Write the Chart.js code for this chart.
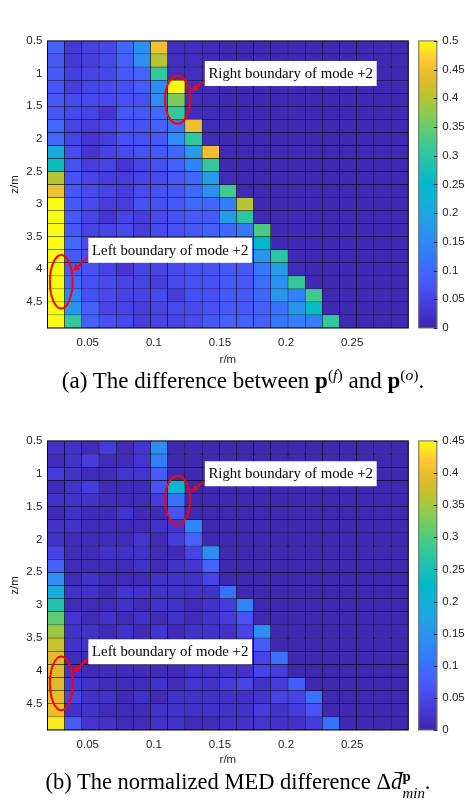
<!DOCTYPE html>
<html><head><meta charset="utf-8">
<script src="https://cdn.jsdelivr.net/npm/chart.js@4.4.1/dist/chart.umd.min.js"></script>
<style>
html,body{margin:0;padding:0;background:#fff;}
#wrap{position:relative;width:465px;height:804px;overflow:hidden;background:#fff;}
.cv{position:absolute;left:0;width:465px;height:372px;}
.cap{position:absolute;white-space:nowrap;font-family:"Liberation Serif","Times New Roman",serif;font-size:23px;line-height:26px;color:#000;transform:translateX(-50%);}
.cap sup{font-size:68%;line-height:0;vertical-align:0.5em;}
.dbar{position:relative;display:inline-block;}
.dbar::before{content:"";position:absolute;left:0.18em;right:-0.06em;top:0.12em;border-top:1.2px solid #000;}
.ss{display:inline-block;vertical-align:-0.62em;font-size:66%;line-height:1.15;text-align:left;margin-left:0.03em;}
.ss span{display:block;}
</style></head><body>
<div id="wrap">
<div class="cv" style="top:0"><canvas id="chartA" width="465" height="372"></canvas></div>
<div class="cap" style="left:243px;top:368px">(a) The difference between <b>p</b><sup>(<i>f</i>)</sup> and <b>p</b><sup>(<i>o</i>)</sup>.</div>
<div class="cv" style="top:400px"><canvas id="chartB" width="465" height="372"></canvas></div>
<div class="cap" style="left:238px;top:768px;font-size:22.5px">(b) The normalized MED difference Δ<span class="dbar"><i>d</i></span><span class="ss"><span><b>p</b></span><span><i>min</i></span></span>.</div>
</div>
<script>
// ---------------- data ----------------
const rCenters = [0.026,0.039,0.052,0.065,0.078,0.091,0.104,0.117,0.130,0.143,0.156,0.169,0.182,0.195,0.208,0.221,0.234,0.247,0.260,0.273,0.286];
const zCenters = [0.6,0.8,1.0,1.2,1.4,1.6,1.8,2.0,2.2,2.4,2.6,2.8,3.0,3.2,3.4,3.6,3.8,4.0,4.2,4.4,4.6,4.8];
const rTicks = [0.05,0.1,0.15,0.2,0.25];
const zTicks = [0.5,1,1.5,2,2.5,3,3.5,4,4.5];
const cbTicksA = [0,0.05,0.1,0.15,0.2,0.25,0.3,0.35,0.4,0.45,0.5];
const cbTicksB = [0,0.05,0.1,0.15,0.2,0.25,0.3,0.35,0.4,0.45];
const cmaxA = 0.5;
const cmaxB = 0.45;

// (a) difference between p(f) and p(o); rows = z, columns = r
const diffA = [
 [0.09,0.035,0.045,0.055,0.10,0.16,0.45,0.015,0.015,0.01,0.008,0.008,0.008,0.008,0.008,0.008,0.008,0.008,0.008,0.008,0.008],
 [0.08,0.035,0.045,0.055,0.09,0.16,0.40,0.015,0.015,0.01,0.008,0.008,0.008,0.008,0.008,0.008,0.008,0.008,0.008,0.008,0.008],
 [0.08,0.045,0.05,0.055,0.08,0.095,0.31,0.015,0.015,0.01,0.008,0.008,0.008,0.008,0.008,0.008,0.008,0.008,0.008,0.008,0.008],
 [0.08,0.04,0.055,0.06,0.065,0.085,0.15,0.50,0.015,0.01,0.008,0.008,0.008,0.008,0.008,0.008,0.008,0.008,0.008,0.008,0.008],
 [0.08,0.06,0.06,0.06,0.07,0.07,0.15,0.365,0.015,0.01,0.008,0.008,0.008,0.008,0.008,0.008,0.008,0.008,0.008,0.008,0.008],
 [0.08,0.06,0.05,0.03,0.08,0.08,0.10,0.31,0.015,0.01,0.008,0.008,0.008,0.008,0.008,0.008,0.008,0.008,0.008,0.008,0.008],
 [0.10,0.05,0.04,0.05,0.07,0.07,0.09,0.12,0.45,0.01,0.008,0.008,0.008,0.008,0.008,0.008,0.008,0.008,0.008,0.008,0.008],
 [0.10,0.05,0.03,0.04,0.07,0.07,0.08,0.15,0.31,0.01,0.008,0.008,0.008,0.008,0.008,0.008,0.008,0.008,0.008,0.008,0.008],
 [0.21,0.06,0.03,0.05,0.06,0.07,0.08,0.10,0.18,0.45,0.008,0.008,0.008,0.008,0.008,0.008,0.008,0.008,0.008,0.008,0.008],
 [0.26,0.07,0.04,0.05,0.03,0.05,0.07,0.09,0.14,0.31,0.008,0.008,0.008,0.008,0.008,0.008,0.008,0.008,0.008,0.008,0.008],
 [0.40,0.07,0.05,0.04,0.04,0.05,0.06,0.08,0.10,0.18,0.01,0.008,0.008,0.008,0.008,0.008,0.008,0.008,0.008,0.008,0.008],
 [0.45,0.08,0.06,0.05,0.04,0.06,0.07,0.08,0.10,0.16,0.32,0.008,0.008,0.008,0.008,0.008,0.008,0.008,0.008,0.008,0.008],
 [0.50,0.08,0.06,0.04,0.04,0.07,0.07,0.08,0.10,0.10,0.13,0.40,0.008,0.008,0.008,0.008,0.008,0.008,0.008,0.008,0.008],
 [0.50,0.08,0.05,0.03,0.05,0.04,0.06,0.07,0.08,0.08,0.18,0.30,0.008,0.008,0.008,0.008,0.008,0.008,0.008,0.008,0.008],
 [0.50,0.08,0.05,0.05,0.06,0.04,0.06,0.07,0.08,0.09,0.10,0.12,0.33,0.008,0.008,0.008,0.008,0.008,0.008,0.008,0.008],
 [0.50,0.10,0.06,0.05,0.05,0.05,0.06,0.07,0.08,0.09,0.10,0.11,0.25,0.008,0.008,0.008,0.008,0.008,0.008,0.008,0.008],
 [0.50,0.08,0.06,0.05,0.05,0.05,0.06,0.07,0.08,0.08,0.09,0.10,0.17,0.30,0.008,0.008,0.008,0.008,0.008,0.008,0.008],
 [0.50,0.08,0.07,0.05,0.03,0.05,0.05,0.06,0.07,0.07,0.08,0.08,0.12,0.18,0.01,0.008,0.008,0.008,0.008,0.008,0.008],
 [0.50,0.10,0.07,0.06,0.05,0.05,0.04,0.06,0.07,0.07,0.08,0.08,0.11,0.16,0.31,0.008,0.008,0.008,0.008,0.008,0.008],
 [0.50,0.14,0.07,0.06,0.05,0.05,0.06,0.04,0.07,0.07,0.08,0.08,0.10,0.17,0.13,0.32,0.008,0.008,0.008,0.008,0.008],
 [0.50,0.17,0.09,0.05,0.05,0.04,0.05,0.06,0.06,0.07,0.08,0.08,0.09,0.11,0.17,0.26,0.008,0.008,0.008,0.008,0.008],
 [0.50,0.31,0.09,0.07,0.06,0.04,0.05,0.05,0.06,0.08,0.09,0.09,0.09,0.12,0.13,0.13,0.31,0.008,0.008,0.008,0.008]
];

// (b) normalized MED difference; rows = z, columns = r
const medB = [
 [0.02,0.02,0.01,0.035,0.01,0.025,0.14,0.005,0.005,0.005,0.005,0.005,0.005,0.005,0.005,0.005,0.005,0.005,0.005,0.005,0.005],
 [0.01,0.02,0.035,0.01,0.01,0.025,0.12,0.005,0.005,0.005,0.005,0.005,0.005,0.005,0.005,0.005,0.005,0.005,0.005,0.005,0.005],
 [0.035,0.02,0.01,0.01,0.025,0.025,0.075,0.005,0.005,0.005,0.005,0.005,0.005,0.005,0.005,0.005,0.005,0.005,0.005,0.005,0.005],
 [0.01,0.02,0.035,0.01,0.01,0.01,0.065,0.21,0.005,0.005,0.005,0.005,0.005,0.005,0.005,0.005,0.005,0.005,0.005,0.005,0.005],
 [0.02,0.02,0.02,0.01,0.01,0.01,0.035,0.10,0.005,0.005,0.005,0.005,0.005,0.005,0.005,0.005,0.005,0.005,0.005,0.005,0.005],
 [0.01,0.02,0.01,0.01,0.025,0.01,0.01,0.065,0.005,0.005,0.005,0.005,0.005,0.005,0.005,0.005,0.005,0.005,0.005,0.005,0.005],
 [0.02,0.02,0.01,0.01,0.01,0.01,0.02,0.025,0.13,0.005,0.005,0.005,0.005,0.005,0.005,0.005,0.005,0.005,0.005,0.005,0.005],
 [0.02,0.01,0.01,0.01,0.01,0.025,0.01,0.035,0.085,0.005,0.005,0.005,0.005,0.005,0.005,0.005,0.005,0.005,0.005,0.005,0.005],
 [0.045,0.01,0.01,0.02,0.02,0.02,0.01,0.01,0.045,0.14,0.005,0.005,0.005,0.005,0.005,0.005,0.005,0.005,0.005,0.005,0.005],
 [0.08,0.01,0.01,0.01,0.01,0.02,0.01,0.02,0.025,0.085,0.005,0.005,0.005,0.005,0.005,0.005,0.005,0.005,0.005,0.005,0.005],
 [0.14,0.01,0.02,0.01,0.01,0.01,0.02,0.02,0.02,0.045,0.005,0.005,0.005,0.005,0.005,0.005,0.005,0.005,0.005,0.005,0.005],
 [0.19,0.02,0.02,0.01,0.025,0.02,0.02,0.02,0.02,0.02,0.10,0.005,0.005,0.005,0.005,0.005,0.005,0.005,0.005,0.005,0.005],
 [0.26,0.01,0.01,0.01,0.02,0.01,0.02,0.02,0.01,0.02,0.035,0.13,0.005,0.005,0.005,0.005,0.005,0.005,0.005,0.005,0.005],
 [0.31,0.025,0.01,0.02,0.01,0.02,0.01,0.02,0.01,0.02,0.035,0.065,0.005,0.005,0.005,0.005,0.005,0.005,0.005,0.005,0.005],
 [0.345,0.02,0.02,0.01,0.02,0.01,0.025,0.01,0.02,0.02,0.02,0.045,0.14,0.005,0.005,0.005,0.005,0.005,0.005,0.005,0.005],
 [0.37,0.02,0.02,0.01,0.01,0.02,0.01,0.02,0.01,0.02,0.02,0.025,0.075,0.005,0.005,0.005,0.005,0.005,0.005,0.005,0.005],
 [0.39,0.01,0.01,0.02,0.01,0.01,0.02,0.01,0.02,0.01,0.02,0.025,0.045,0.10,0.005,0.005,0.005,0.005,0.005,0.005,0.005],
 [0.39,0.02,0.01,0.01,0.01,0.01,0.01,0.01,0.02,0.02,0.02,0.02,0.045,0.035,0.005,0.005,0.005,0.005,0.005,0.005,0.005],
 [0.39,0.035,0.02,0.01,0.01,0.01,0.02,0.01,0.025,0.02,0.035,0.045,0.02,0.035,0.075,0.005,0.005,0.005,0.005,0.005,0.005],
 [0.40,0.045,0.02,0.02,0.01,0.02,0.01,0.02,0.02,0.02,0.02,0.02,0.025,0.045,0.045,0.10,0.005,0.005,0.005,0.005,0.005],
 [0.40,0.02,0.02,0.01,0.01,0.01,0.02,0.02,0.02,0.02,0.02,0.02,0.035,0.02,0.035,0.065,0.005,0.005,0.005,0.005,0.005],
 [0.44,0.075,0.025,0.02,0.01,0.01,0.02,0.02,0.01,0.01,0.02,0.02,0.025,0.02,0.02,0.035,0.10,0.005,0.005,0.005,0.005]
];

// annotation texts
const noteTexts = ['Right boundary of mode +2', 'Left boundary of mode +2'];

// ---------------- styling ----------------
const PARULA = [
 [0.2422,0.1504,0.6603],[0.2704,0.2138,0.8346],[0.2813,0.2985,0.9397],[0.2710,0.3860,0.9898],
 [0.2006,0.4803,0.9906],[0.1755,0.5554,0.9473],[0.1383,0.6272,0.8975],[0.0855,0.6865,0.8513],
 [0.0019,0.7220,0.7878],[0.1141,0.7531,0.7019],[0.2118,0.7828,0.5983],[0.3671,0.8021,0.4563],
 [0.5609,0.7943,0.3050],[0.7468,0.7654,0.1782],[0.9000,0.7336,0.1749],[0.9957,0.7856,0.2053],
 [0.9769,0.9839,0.0805]
];
function parula(t){
  t = Math.max(0, Math.min(1, t));
  const n = PARULA.length - 1;
  const f = t * n, i = Math.min(n - 1, Math.floor(f)), u = f - i;
  const a = PARULA[i], b = PARULA[i+1];
  const c = a.map((v,k)=>Math.round(255*(v + (b[k]-v)*u)));
  return 'rgb(' + c.join(',') + ')';
}
const TICK_FONT = {family:'"Liberation Sans", Arial, sans-serif', size:11.5};
const TICK_COLOR = '#262626';
const fmt = v => String(parseFloat(Number(v).toFixed(4)));
const NOTE_FONT = '14.8px "Liberation Serif", "Times New Roman", serif';
const NOTE_LAYOUT = [
  {box:[0.1385,1.0], ell:[0.1179,1.40,0.0095,0.37], arrow:[[0.1382,1.115],[0.1284,1.267]]},
  {box:[0.0504,3.71], ell:[0.0299,4.19,0.0086,0.41], arrow:[[0.0497,3.82],[0.0387,4.03]]}
];

const hr = (rCenters[1]-rCenters[0])/2;
const hz = (zCenters[1]-zCenters[0])/2;

const decor = {
  id:'decor',
  afterDraw(chart, args, opts){
    const ctx = chart.ctx, ca = chart.chartArea;
    const xs = chart.scales.x, ys = chart.scales.y, cb = chart.scales.cb;
    ctx.save();
    ctx.strokeStyle = '#000'; ctx.lineWidth = 1;
    ctx.strokeRect(ca.left, ca.top, ca.right-ca.left, ca.bottom-ca.top);
    // colorbar
    const x0 = ca.right + 10, w = 19;
    const yT = cb.getPixelForValue(opts.cmax), yB = cb.getPixelForValue(0);
    const g = ctx.createLinearGradient(0, yB, 0, yT);
    for (let i = 0; i <= 64; i++) g.addColorStop(i/64, parula(i/64));
    ctx.fillStyle = g; ctx.fillRect(x0, yT, w, yB-yT);
    ctx.strokeStyle = '#707070'; ctx.lineWidth = 1;
    ctx.strokeRect(x0+0.5, yT, w-1, yB-yT);
    ctx.strokeStyle = '#262626';
    cb.ticks.forEach(t=>{
      const y = Math.round(cb.getPixelForValue(t.value))+0.5;
      ctx.beginPath(); ctx.moveTo(x0+w-3.5, y); ctx.lineTo(x0+w, y); ctx.stroke();
    });
    // annotations
    const px = v=>xs.getPixelForValue(v), py = v=>ys.getPixelForValue(v);
    ctx.font = NOTE_FONT;
    NOTE_LAYOUT.forEach((n,i)=>{
      const txt = noteTexts[i];
      const tw = ctx.measureText(txt).width;
      const bx = px(n.box[0]), by = py(n.box[1]);
      ctx.fillStyle = '#fff';
      ctx.fillRect(bx, by-12.5, tw+7.4, 25);
      ctx.fillStyle = '#000'; ctx.textBaseline = 'middle'; ctx.textAlign = 'left';
      ctx.fillText(txt, bx+3.7, by+0.5);
      ctx.strokeStyle = '#ff0000'; ctx.lineWidth = 2;
      const ex = px(n.ell[0]), ey = py(n.ell[1]);
      const erx = Math.abs(px(n.ell[0]+n.ell[2]) - ex), ery = Math.abs(py(n.ell[1]+n.ell[3]) - ey);
      ctx.beginPath(); ctx.ellipse(ex, ey, erx, ery, 0, 0, Math.PI*2); ctx.stroke();
      const ax = px(n.arrow[0][0]), ay = py(n.arrow[0][1]);
      const hx = px(n.arrow[1][0]), hy = py(n.arrow[1][1]);
      const ang = Math.atan2(hy-ay, hx-ax), L = 7, W = 3.5;
      const bxh = hx - L*Math.cos(ang), byh = hy - L*Math.sin(ang);
      ctx.beginPath(); ctx.moveTo(ax, ay); ctx.lineTo(bxh, byh); ctx.stroke();
      ctx.fillStyle = '#ff0000';
      ctx.beginPath();
      ctx.moveTo(hx, hy);
      ctx.lineTo(bxh + W*Math.sin(ang), byh - W*Math.cos(ang));
      ctx.lineTo(bxh - W*Math.sin(ang), byh + W*Math.cos(ang));
      ctx.closePath(); ctx.fill();
    });
    ctx.restore();
  }
};

function makeChart(id, values, cmax, cbTicks, padTop, xAxisH){
  const datasets = zCenters.map((z,i)=>({
    data: rCenters.map(r=>({x:r, y:[z-hz, z+hz]})),
    backgroundColor: values[i].map(v=>parula(v/cmax)),
    borderColor:'#000', borderWidth:0.5, borderSkipped:false,
    grouped:false, categoryPercentage:1, barPercentage:1
  }));
  return new Chart(document.getElementById(id), {
    type:'bar',
    data:{datasets},
    options:{
      responsive:false, animation:false, devicePixelRatio:1,
      layout:{padding:{top:padTop,left:0,right:0,bottom:0}},
      plugins:{legend:{display:false}, tooltip:{enabled:false}, decor:{cmax}},
      scales:{
        x:{type:'linear', min:rCenters[0]-hr, max:rCenters[rCenters.length-1]+hr, offset:false,
           grid:{display:false, drawTicks:false}, border:{display:false},
           afterBuildTicks:s=>{s.ticks = rTicks.map(v=>({value:v}));},
           afterFit:s=>{s.height = xAxisH;},
           ticks:{padding:8, font:TICK_FONT, color:TICK_COLOR, maxRotation:0, autoSkip:false, callback:fmt},
           title:{display:true, text:'r/m', font:TICK_FONT, color:TICK_COLOR, padding:{top:0,bottom:5}}},
        y:{type:'linear', reverse:true, min:zCenters[0]-hz, max:zCenters[zCenters.length-1]+hz,
           grid:{display:false, drawTicks:false}, border:{display:false},
           afterBuildTicks:s=>{s.ticks = zTicks.map(v=>({value:v}));},
           afterFit:s=>{s.width = 47.5;},
           ticks:{padding:5.2, font:TICK_FONT, color:TICK_COLOR, autoSkip:false, callback:fmt},
           title:{display:true, text:'z/m', font:TICK_FONT, color:TICK_COLOR, padding:{top:8,bottom:0}}},
        cb:{type:'linear', position:'right', min:0, max:cmax,
           grid:{display:false, drawTicks:false}, border:{display:false},
           afterBuildTicks:s=>{s.ticks = cbTicks.map(v=>({value:v}));},
           afterFit:s=>{s.width = 56.7;},
           ticks:{padding:34, font:TICK_FONT, color:TICK_COLOR, autoSkip:false, callback:fmt}}
      }
    },
    plugins:[decor]
  });
}

makeChart('chartA', diffA, cmaxA, cbTicksA, 10.7, 44);
makeChart('chartB', medB, cmaxB, cbTicksB, 13.3, 42);
</script>
</body></html>
